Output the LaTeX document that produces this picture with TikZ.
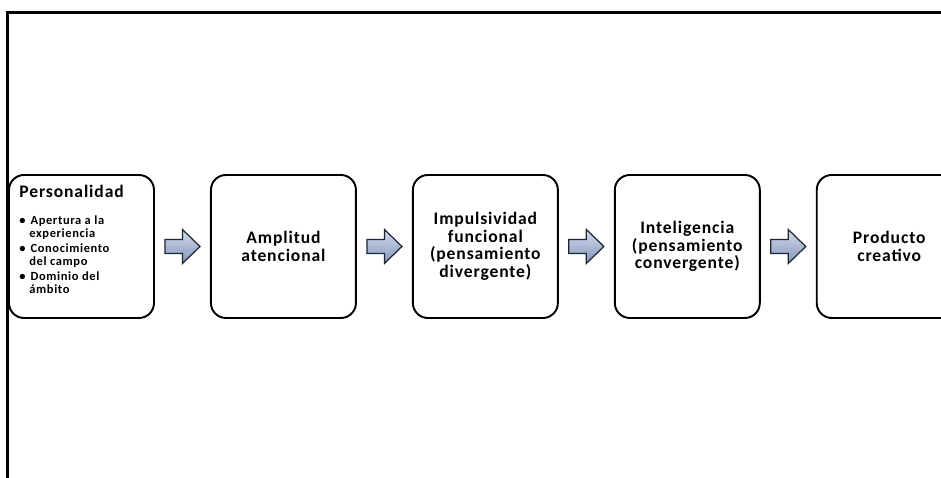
\documentclass[tikz,border=0pt]{standalone}
\usepackage{fontspec}
\setmainfont{Carlito}
\newfontfamily\stagefont[LetterSpace=5]{Carlito}
\usepackage{xcolor}
\usepackage{tikz}
\usetikzlibrary{positioning,calc}
\definecolor{FlowTop}{HTML}{D3DBEB}
\definecolor{FlowBottom}{HTML}{8396BC}
\definecolor{FlowLine}{HTML}{1E2633}

\begin{document}
\begin{tikzpicture}[x=1cm,y=1cm,
  stagebox/.style={draw=black,line width=1.1pt,rounded corners=0.30cm,minimum width=2.90cm,minimum height=2.86cm,inner sep=0pt,align=center,font=\stagefont\bfseries\fontsize{10}{10}\selectfont},
  headtext/.style={inner sep=0pt,anchor=base west,font=\stagefont\bfseries\fontsize{10}{10}\selectfont},
  listtext/.style={inner sep=0pt,align=left,anchor=north west,font=\stagefont\bfseries\fontsize{7.1}{7.4}\selectfont},
  flowarrow/.style={draw=FlowLine,line width=0.7pt,top color=FlowTop,bottom color=FlowBottom,line join=miter}]
\path[use as bounding box] (0,0) rectangle (18.82,9.56);
% frame
\draw[line width=1.7pt,line join=miter] (0.15,0) -- (0.15,9.30) -- (18.82,9.30);
% stages
\node[stagebox] (b1) at (1.63,4.63) {};
\node[stagebox,right=1.10cm of b1] (b2) {Amplitud\\atencional};
\node[stagebox,right=1.10cm of b2] (b3) {Impulsividad\\funcional\\(pensamiento\\divergente)};
\node[stagebox,right=1.10cm of b3] (b4) {Inteligencia\\(pensamiento\\convergente)};
\node[stagebox,right=1.10cm of b4] (b5) {Producto\\creativo};
\node[headtext] (head) at ([shift={(0.22,-0.46)}]b1.north west) {Personalidad};
\node[listtext] (list) at ([yshift=-0.36cm]head.base west) {%
\textbullet\hspace{0.10cm}Apertura a la\\
\hspace*{0.20cm}experiencia\\[1.2pt]
\textbullet\hspace{0.10cm}Conocimiento\\
\hspace*{0.20cm}del campo\\[1.2pt]
\textbullet\hspace{0.10cm}Dominio del\\
\hspace*{0.20cm}ámbito};
% arrows
\foreach \a/\b in {b1/b2,b2/b3,b3/b4,b4/b5}
  \draw[flowarrow] ($(\a.east)!0.5!(\b.west)+(-0.35,0.14)$) -- ++(0.35,0) -- ++(0,0.20) -- ++(0.35,-0.34) -- ++(-0.35,-0.34) -- ++(0,0.20) -- ++(-0.35,0) -- cycle;
\end{tikzpicture}
\end{document}
